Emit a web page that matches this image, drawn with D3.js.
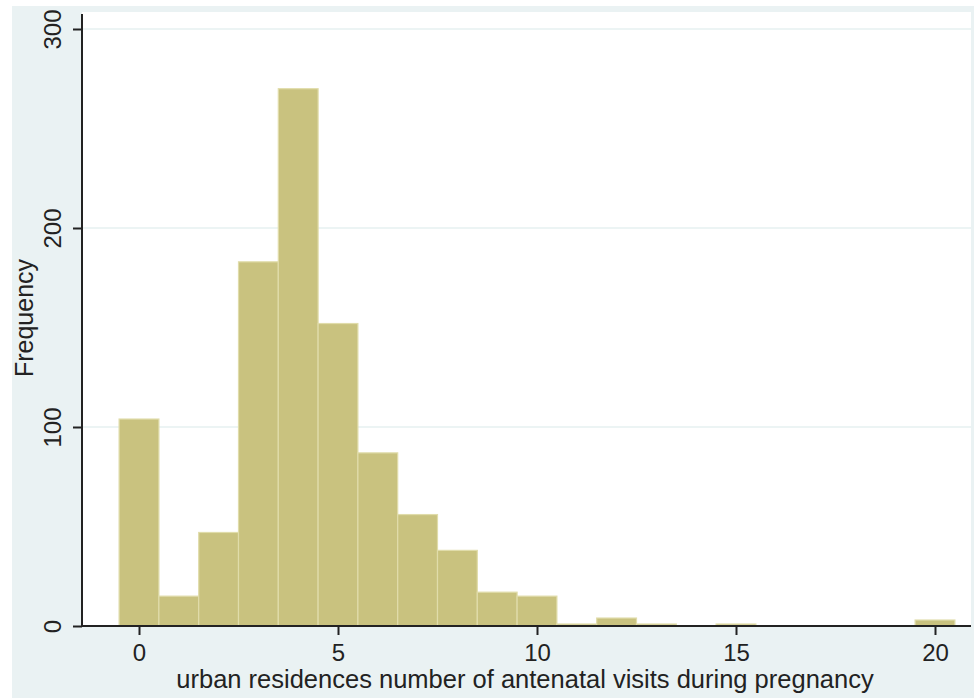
<!DOCTYPE html>
<html><head><meta charset="utf-8">
<script src="https://cdn.jsdelivr.net/npm/d3@7"></script>
<style>html,body{margin:0;padding:0;background:#fff;}svg{display:block;}</style>
</head><body>
<script>
const bins = [0,1,2,3,4,5,6,7,8,9,10,11,12,13,15,20];
const counts = [104,15,47,183,270,152,87,56,38,17,15,1,4,1,1,3];
const xTicks = [0,5,10,15,20];
const yTicks = [0,100,200,300];
const xTitle = "urban residences number of antenatal visits during pregnancy";
const yTitle = "Frequency";

const W = 974, H = 698;
const svg = d3.select("body").append("svg").attr("width", W).attr("height", H);
svg.append("rect").attr("x",12).attr("y",6).attr("width",W-12).attr("height",H-6).attr("fill","#eaf2f3");

const pL = 82, pR = 971, pT = 12, pB = 626;
svg.append("rect").attr("x",pL).attr("y",pT).attr("width",pR-pL).attr("height",pB-pT).attr("fill","#fff");

const x = d3.scaleLinear().domain([0,20]).range([139,935]);
const y = d3.scaleLinear().domain([0,300]).range([pB,29]);
const font = "'Liberation Sans', Arial, sans-serif";

// gridlines
svg.append("g").selectAll("line").data(yTicks.filter(d=>d>0)).join("line")
  .attr("x1",pL).attr("x2",pR).attr("y1",d=>y(d)).attr("y2",d=>y(d))
  .attr("stroke","#e6f0f1").attr("stroke-width",1.5);

// bars
svg.append("g").selectAll("rect").data(bins).join("rect")
  .attr("x",(d)=>x(d-0.5)).attr("width",(d)=>x(d+0.5)-x(d-0.5))
  .attr("y",(d,i)=>y(counts[i])).attr("height",(d,i)=>pB-y(counts[i]))
  .attr("fill","#c9c27f").attr("stroke","#e0dcaa").attr("stroke-width",1.2);

// axes
const xAxis = d3.axisBottom(x).tickValues(xTicks).tickSize(9).tickPadding(9).tickFormat(d3.format("d"));
const gx = svg.append("g").attr("transform",`translate(0,${pB})`).call(xAxis);
gx.select(".domain").attr("d",`M${pL},0H${pR}`).attr("stroke","#222").attr("stroke-width",2);
gx.selectAll(".tick line").attr("stroke","#222").attr("stroke-width",2);
gx.selectAll(".tick text").attr("font-family",font).attr("font-size",24).attr("fill","#222").attr("dy","0.71em");

const yAxis = d3.axisLeft(y).tickValues(yTicks).tickSize(9).tickFormat(d3.format("d"));
const gy = svg.append("g").attr("transform",`translate(${pL},0)`).call(yAxis);
gy.select(".domain").attr("d",`M0,14V${pB}`).attr("stroke","#222").attr("stroke-width",2);
gy.selectAll(".tick line").attr("stroke","#222").attr("stroke-width",2);
gy.selectAll(".tick text").attr("font-family",font).attr("font-size",24).attr("fill","#222")
  .attr("x",0).attr("dy",null).attr("transform","translate(-30,0) rotate(-90)")
  .attr("text-anchor","middle").attr("dominant-baseline","central");

svg.append("text").attr("x",525).attr("y",688).attr("text-anchor","middle")
  .attr("font-family",font).attr("font-size",25.5).attr("fill","#222").text(xTitle);
svg.append("text").attr("transform","translate(24,318) rotate(-90)").attr("text-anchor","middle")
  .attr("dominant-baseline","central").attr("font-family",font).attr("font-size",25).attr("fill","#222").text(yTitle);
</script>
</body></html>
